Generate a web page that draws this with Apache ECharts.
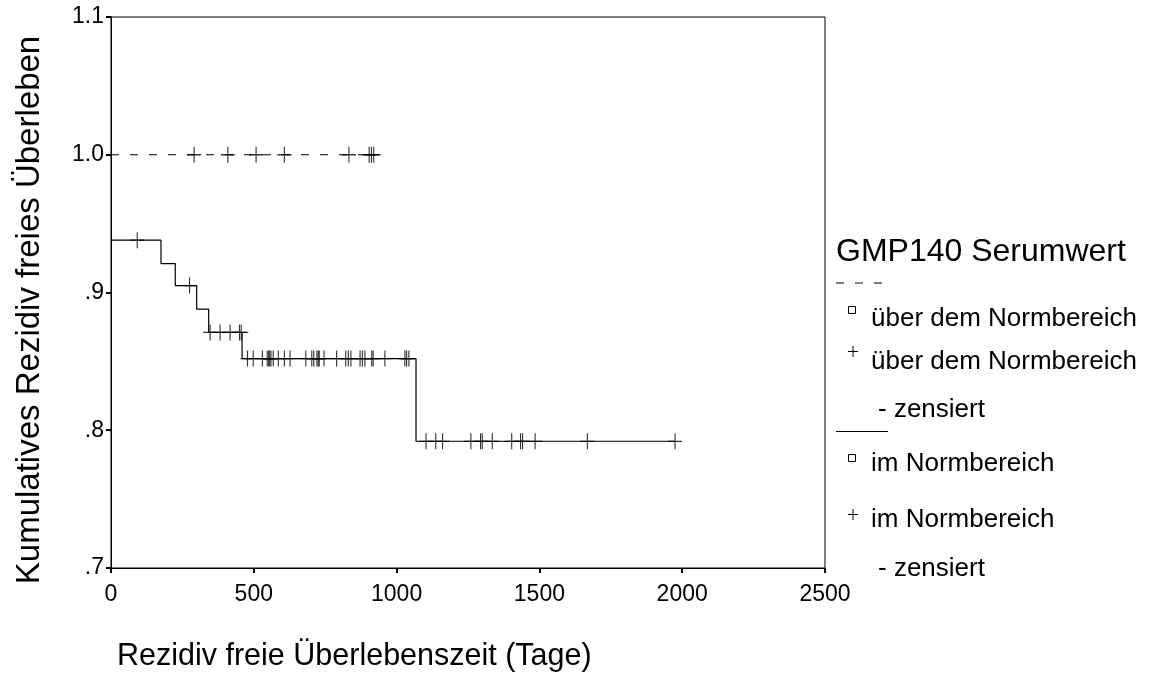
<!DOCTYPE html>
<html><head><meta charset="utf-8">
<script src="https://cdn.jsdelivr.net/npm/echarts@6/dist/echarts.min.js"></script>
<style>html,body{margin:0;padding:0;background:#fff}#c{width:1151px;height:693px}</style>
</head><body><div id="c"></div>
<script>
// ---- axis ticks ----
const xTickValues = [0, 500, 1000, 1500, 2000, 2500];
const xTickLabels = ['0', '500', '1000', '1500', '2000', '2500'];
const yTickValues = [0.7, 0.8, 0.9, 1.0, 1.1];
const yTickLabels = ['.7', '.8', '.9', '1.0', '1.1'];

// ---- group "über dem Normbereich" (dashed curve) ----
const aboveStepTimes = [0, 920];
const aboveStepSurv = [1.0, 1.0];
const aboveCensorTimes = [291, 409, 508, 607, 833, 904, 912, 920];
const aboveCensorSurv = [1.0, 1.0, 1.0, 1.0, 1.0, 1.0, 1.0, 1.0];

// ---- group "im Normbereich" (solid curve) ----
const normStepTimes = [0, 175, 225, 300, 342, 459, 1068, 1975];
const normStepSurv = [0.938, 0.921, 0.905, 0.888, 0.871, 0.852, 0.792, 0.792];
const normCensorTimes = [92, 275,
  347, 382, 417, 450, 456,
  478, 498, 530, 547, 552, 556, 560, 568, 586, 607, 627, 682, 703, 710, 721, 726, 729, 746,
  790, 822, 831, 840, 872, 880, 889, 913, 918, 959, 1029, 1035, 1043,
  1103, 1137, 1161, 1260, 1294, 1300, 1335, 1403, 1434, 1441, 1485, 1668, 1975];
const normCensorSurv = [0.938, 0.905,
  0.871, 0.871, 0.871, 0.871, 0.871,
  0.852, 0.852, 0.852, 0.852, 0.852, 0.852, 0.852, 0.852, 0.852, 0.852, 0.852, 0.852, 0.852, 0.852, 0.852, 0.852, 0.852, 0.852,
  0.852, 0.852, 0.852, 0.852, 0.852, 0.852, 0.852, 0.852, 0.852, 0.852, 0.852, 0.852, 0.852,
  0.792, 0.792, 0.792, 0.792, 0.792, 0.792, 0.792, 0.792, 0.792, 0.792, 0.792, 0.792, 0.792];

const zip = (a, b) => a.map((v, i) => [v, b[i]]);
const FONT = '"Liberation Sans", Arial, Helvetica, sans-serif';
const PLUS = 'path://M0,50L100,50M50,0L50,100';

function labelFor(values, labels, v) {
  let best = 0;
  values.forEach((t, i) => { if (Math.abs(t - v) < Math.abs(values[best] - v)) best = i; });
  return labels[best];
}

const chart = echarts.init(document.getElementById('c'), null, {renderer: 'canvas'});
const txt = (x, y, s, size, extra) => Object.assign({
  type: 'text', x: x, y: y,
  style: {text: s, font: size + 'px ' + FONT, fill: '#000', align: 'left', verticalAlign: 'middle'}
}, extra || {});

const option = {
  animation: false,
  backgroundColor: '#fff',
  grid: {left: 111, right: 326, top: 17, bottom: 125, show: true, borderColor: '#000', borderWidth: 1, backgroundColor: 'transparent'},
  xAxis: {
    type: 'value', min: 0, max: 2500, interval: 500,
    axisLine: {show: true, lineStyle: {color: '#000', width: 1}},
    axisTick: {show: true, length: 5, lineStyle: {color: '#000', width: 2}},
    splitLine: {show: false},
    axisLabel: {color: '#000', fontFamily: FONT, fontSize: 23, margin: 15,
      formatter: v => labelFor(xTickValues, xTickLabels, v)}
  },
  yAxis: {
    type: 'value', min: 0.7, max: 1.1, interval: 0.1,
    axisLine: {show: true, lineStyle: {color: '#000', width: 1}},
    axisTick: {show: true, length: 5, lineStyle: {color: '#000', width: 2}},
    splitLine: {show: false},
    axisLabel: {color: '#000', fontFamily: FONT, fontSize: 23, margin: 7,
      formatter: v => labelFor(yTickValues, yTickLabels, v)}
  },
  series: [
    {type: 'line', step: 'end', data: zip(aboveStepTimes, aboveStepSurv), symbol: 'none',
      lineStyle: {color: '#000', width: 1, type: [8, 11]}, z: 3},
    {type: 'scatter', data: zip(aboveCensorTimes, aboveCensorSurv), symbol: PLUS, symbolSize: [14, 16],
      itemStyle: {color: 'none', borderColor: '#000', borderWidth: 1.2}, z: 4},
    {type: 'line', step: 'end', data: zip(normStepTimes, normStepSurv), symbol: 'none',
      lineStyle: {color: '#000', width: 1.2}, z: 3},
    {type: 'scatter', data: zip(normCensorTimes, normCensorSurv), symbol: PLUS, symbolSize: [14, 16],
      itemStyle: {color: 'none', borderColor: '#000', borderWidth: 1.2}, z: 4}
  ],
  graphic: [
    // axis titles
    {type: 'text', x: 30, y: 310, rotation: Math.PI / 2,
      style: {text: 'Kumulatives Rezidiv freies Überleben', font: '33px ' + FONT, fill: '#000', align: 'center', verticalAlign: 'middle'}},
    txt(117, 657, 'Rezidiv freie Überlebenszeit (Tage)', 30.5),
    // legend
    txt(836, 252, 'GMP140 Serumwert', 32),
    {type: 'line', shape: {x1: 836, y1: 283, x2: 882, y2: 283}, style: {stroke: '#000', lineWidth: 1, lineDash: [8, 11]}},
    {type: 'rect', shape: {x: 848.5, y: 306.5, width: 7, height: 7}, style: {fill: 'none', stroke: '#000', lineWidth: 1}},
    txt(871, 319, 'über dem Normbereich', 26),
    {type: 'line', shape: {x1: 848, y1: 351.5, x2: 858, y2: 351.5}, style: {stroke: '#000', lineWidth: 1}},
    {type: 'line', shape: {x1: 853, y1: 346, x2: 853, y2: 357}, style: {stroke: '#000', lineWidth: 1}},
    txt(871, 362, 'über dem Normbereich', 26),
    txt(878, 410, '- zensiert', 26),
    {type: 'line', shape: {x1: 836, y1: 431.5, x2: 888, y2: 431.5}, style: {stroke: '#000', lineWidth: 1}},
    {type: 'rect', shape: {x: 848.5, y: 454.5, width: 7, height: 7}, style: {fill: 'none', stroke: '#000', lineWidth: 1}},
    txt(871, 464, 'im Normbereich', 26),
    {type: 'line', shape: {x1: 848, y1: 514.5, x2: 858, y2: 514.5}, style: {stroke: '#000', lineWidth: 1}},
    {type: 'line', shape: {x1: 853, y1: 509, x2: 853, y2: 520}, style: {stroke: '#000', lineWidth: 1}},
    txt(871, 520, 'im Normbereich', 26),
    txt(878, 569, '- zensiert', 26)
  ]
};
chart.setOption(option);
</script>
</body></html>
